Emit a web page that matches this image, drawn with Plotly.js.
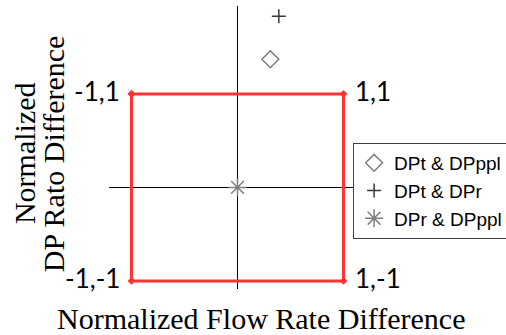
<!DOCTYPE html>
<html><head><meta charset="utf-8">
<script src="https://cdn.plot.ly/plotly-3.0.1.min.js"></script>
<style>html,body{margin:0;padding:0;background:#fff;}#chart{width:506px;height:335px;}</style>
</head><body><div id="chart"></div>
<script>
// Data
var seriesNames = ["DPt & DPppl", "DPt & DPr", "DPr & DPppl"];
var seriesX = [[0.31], [0.39], [0]];
var seriesY = [[1.37], [1.83], [0]];
var cornerX = [-1, 1, 1, -1, -1];
var cornerY = [1, 1, -1, -1, 1];
var cornerLabels = ["-1,1", "1,1", "1,-1", "-1,-1"];
var xTitle = "Normalized Flow Rate Difference";
var yTitleLines = ["Normalized", "DP Rato Difference"];

var symbols = ["diamond-open", "cross-thin-open", "asterisk-open"];
var colors = ["#7f7f7f", "#3a3a3a", "#7f7f7f"];
var sizes = [13, 10, 15];

var traces = [{
  x: cornerX, y: cornerY, mode: "lines+markers", showlegend: false,
  line: {color: "#ff3333", width: 3},
  marker: {symbol: "diamond", size: 6, color: "#ff3333"},
  hoverinfo: "skip"
}];
for (var i = 0; i < seriesNames.length; i++) {
  traces.push({
    x: seriesX[i], y: seriesY[i], name: seriesNames[i], mode: "markers",
    legendgroup: "g" + i,
    marker: {symbol: symbols[i], size: sizes[i], color: colors[i], line: {color: colors[i], width: 1.5}}
  });
}

var annotations = [];
for (var k = 0; k < cornerLabels.length; k++) {
  var right = cornerX[k] > 0;
  annotations.push({
    x: cornerX[k], y: cornerY[k], xref: "x", yref: "y", text: cornerLabels[k],
    showarrow: false, xanchor: right ? "left" : "right", yanchor: "middle",
    xshift: right ? 10 : -9, yshift: 3,
    font: {family: "Lato", size: 26, color: "#000"}
  });
}
annotations.push({
  x: 0.598, y: -0.1025, xref: "paper", yref: "paper", text: xTitle, showarrow: false,
  xanchor: "center", yanchor: "middle", font: {family: "Liberation Serif", size: 30, color: "#000"}
});
var yPos = [-0.335, -0.2205];
for (var j = 0; j < yTitleLines.length; j++) {
  annotations.push({
    x: yPos[j], y: 0.48, xref: "paper", yref: "paper", text: yTitleLines[j], showarrow: false,
    textangle: -90, xanchor: "center", yanchor: "middle",
    font: {family: "Liberation Serif", size: 30, color: "#000"}
  });
}

var layout = {
  width: 506, height: 335,
  margin: {l: 109, r: 143, t: 6, b: 46, pad: 0, autoexpand: false},
  paper_bgcolor: "#fff", plot_bgcolor: "#fff",
  xaxis: {range: [-1.212, 1.184], showgrid: false, showticklabels: false, ticks: "",
          zeroline: true, zerolinecolor: "#000", zerolinewidth: 1, showline: false},
  yaxis: {range: [-1.086, 1.94], showgrid: false, showticklabels: false, ticks: "",
          zeroline: true, zerolinecolor: "#000", zerolinewidth: 1, showline: false},
  showlegend: true,
  legend: {x: 0.961, y: 0.516, xanchor: "left", yanchor: "top",
           bgcolor: "#fff", bordercolor: "#404040", borderwidth: 1,
           font: {family: "Liberation Sans", size: 19, color: "#000"},
           tracegroupgap: 0, itemwidth: 30},
  annotations: annotations
};
Plotly.newPlot("chart", traces, layout, {staticPlot: true, displayModeBar: false});
</script></body></html>
